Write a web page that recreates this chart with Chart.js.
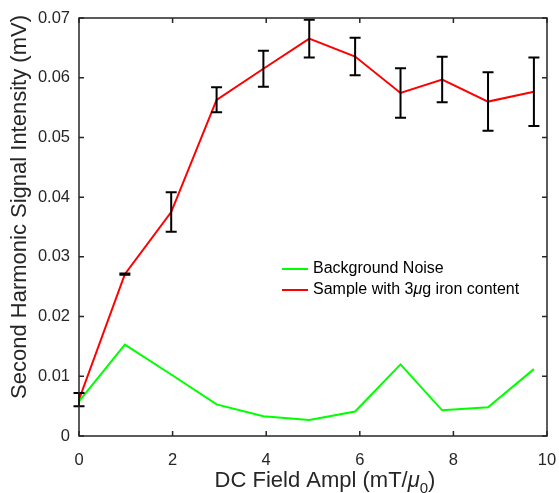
<!DOCTYPE html>
<html>
<head>
<meta charset="utf-8">
<script src="https://cdn.jsdelivr.net/npm/chart.js@4.4.1/dist/chart.umd.min.js"></script>
<style>
html,body{margin:0;padding:0;background:#fff;}
#wrap{width:559px;height:493px;position:relative;}
</style>
</head>
<body>
<div id="wrap"><canvas id="c" width="559" height="493"></canvas></div>
<script>
// ---- data ----
const fieldX   = [0, 0.98, 1.97, 2.94, 3.94, 4.92, 5.90, 6.87, 7.76, 8.74, 9.72];
const noiseY   = [0.0058, 0.0153, 0.0103, 0.0053, 0.0033, 0.0027, 0.0041, 0.0120, 0.0043, 0.0048, 0.0112];
const sampleY  = [0.0061, 0.0271, 0.0375, 0.0563, 0.0615, 0.06655, 0.06355, 0.05745, 0.0597, 0.0560, 0.05765];
const sampleErr= [0.0011, 0.0001, 0.0033, 0.0021, 0.0030, 0.00315, 0.00315, 0.00415, 0.0038, 0.0049, 0.00575];
const xTicks   = [0, 2, 4, 6, 8, 10];
const yTicks   = [0, 0.01, 0.02, 0.03, 0.04, 0.05, 0.06, 0.07];
const seriesLabels = ['Background Noise', 'Sample with 3\u03BCg iron content'];
const yTitle = 'Second Harmonic Signal Intensity (mV)';

const FONT = '"Liberation Sans", Arial, Helvetica, sans-serif';
const AX = '#262626';

const toPts = (xs, ys) => xs.map((x, i) => ({x: x, y: ys[i]}));

const frameAndExtras = {
  id: 'frameAndExtras',
  afterDatasetsDraw(chart) {
    const ctx = chart.ctx, xs = chart.scales.x, ys = chart.scales.y;
    ctx.save();
    ctx.strokeStyle = '#000';
    ctx.lineWidth = 2;
    fieldX.forEach((x, i) => {
      const px = xs.getPixelForValue(x);
      const top = ys.getPixelForValue(sampleY[i] + sampleErr[i]);
      const bot = ys.getPixelForValue(sampleY[i] - sampleErr[i]);
      ctx.beginPath();
      ctx.moveTo(px, top); ctx.lineTo(px, bot);
      ctx.moveTo(px - 5.5, top); ctx.lineTo(px + 5.5, top);
      ctx.moveTo(px - 5.5, bot); ctx.lineTo(px + 5.5, bot);
      ctx.stroke();
    });
    ctx.restore();
  },
  afterDraw(chart) {
    const ctx = chart.ctx, a = chart.chartArea, xs = chart.scales.x, ys = chart.scales.y;
    ctx.save();
    ctx.strokeStyle = AX;
    ctx.lineWidth = 1.5;
    ctx.strokeRect(a.left, a.top, a.right - a.left, a.bottom - a.top);
    ctx.beginPath();
    const tl = 5;
    xTicks.forEach(v => {
      const px = xs.getPixelForValue(v);
      ctx.moveTo(px, a.bottom); ctx.lineTo(px, a.bottom - tl);
      ctx.moveTo(px, a.top); ctx.lineTo(px, a.top + tl);
    });
    yTicks.forEach(v => {
      const py = ys.getPixelForValue(v);
      ctx.moveTo(a.left, py); ctx.lineTo(a.left + tl, py);
      ctx.moveTo(a.right, py); ctx.lineTo(a.right - tl, py);
    });
    ctx.stroke();

    // legend
    const ds = chart.data.datasets;
    const LF = 16;
    ctx.textBaseline = 'middle';
    ctx.textAlign = 'left';
    const legY = [269, 290];
    ds.forEach((d, i) => {
      ctx.strokeStyle = d.borderColor;
      ctx.lineWidth = 2;
      ctx.beginPath();
      ctx.moveTo(282, legY[i]); ctx.lineTo(308, legY[i]);
      ctx.stroke();
      ctx.fillStyle = '#000';
      const label = d.label;
      const mu = label.indexOf('\u03BC');
      ctx.font = LF + 'px ' + FONT;
      if (mu < 0) {
        ctx.fillText(label, 313, legY[i]);
      } else {
        let x = 313;
        const a1 = label.slice(0, mu), a2 = label.slice(mu + 1);
        ctx.fillText(a1, x, legY[i]); x += ctx.measureText(a1).width;
        ctx.font = 'italic ' + LF + 'px ' + FONT;
        ctx.fillText('\u03BC', x, legY[i]); x += ctx.measureText('\u03BC').width;
        ctx.font = LF + 'px ' + FONT;
        ctx.fillText(a2, x, legY[i]);
      }
    });

    // y title
    const TF = 22;
    ctx.fillStyle = AX;
    ctx.font = TF + 'px ' + FONT;
    ctx.textAlign = 'center';
    ctx.textBaseline = 'middle';
    ctx.save();
    ctx.translate(20, 207);
    ctx.rotate(-Math.PI / 2);
    ctx.fillText(yTitle, 0, 0);
    ctx.restore();

    // x title with italic mu and subscript 0
    const parts = [
      {t: 'DC Field Ampl (mT/', f: TF + 'px ' + FONT, dy: 0},
      {t: '\u03BC', f: 'italic ' + TF + 'px ' + FONT, dy: 0},
      {t: '0', f: '15px ' + FONT, dy: 6},
      {t: ')', f: TF + 'px ' + FONT, dy: 0}
    ];
    let w = 0;
    parts.forEach(p => { ctx.font = p.f; p.w = ctx.measureText(p.t).width; w += p.w; });
    let x = 325 - w / 2;
    ctx.textAlign = 'left';
    ctx.textBaseline = 'alphabetic';
    parts.forEach(p => { ctx.font = p.f; ctx.fillText(p.t, x, 487 + p.dy); x += p.w; });
    ctx.restore();
  }
};

new Chart(document.getElementById('c'), {
  type: 'line',
  data: {
    datasets: [
      {label: seriesLabels[0], data: toPts(fieldX, noiseY), borderColor: '#00ff00', backgroundColor: '#00ff00', borderWidth: 2, pointRadius: 0, tension: 0, fill: false},
      {label: seriesLabels[1], data: toPts(fieldX, sampleY), borderColor: '#ff0000', backgroundColor: '#ff0000', borderWidth: 2, pointRadius: 0, tension: 0, fill: false}
    ]
  },
  options: {
    responsive: false,
    animation: false,
    layout: {padding: {left: 0, right: 12, top: 18, bottom: 0}},
    plugins: {legend: {display: false}, tooltip: {enabled: false}},
    scales: {
      x: {
        type: 'linear', min: 0, max: 10,
        afterBuildTicks: s => { s.ticks = xTicks.map(v => ({value: v})); },
        afterFit: s => { s.height = 57; s.paddingLeft = 0; s.paddingRight = 0; },
        grid: {display: false}, border: {display: false},
        ticks: {color: AX, font: {family: FONT, size: 16.5}, padding: 7, maxRotation: 0,
                callback: v => String(v)}
      },
      y: {
        type: 'linear', min: 0, max: 0.07,
        afterBuildTicks: s => { s.ticks = yTicks.map(v => ({value: v})); },
        afterFit: s => { s.width = 79; s.paddingTop = 0; s.paddingBottom = 0; },
        grid: {display: false}, border: {display: false},
        ticks: {color: AX, font: {family: FONT, size: 16.5}, padding: 1,
                callback: v => (Math.round(v * 100) / 100).toString()}
      }
    }
  },
  plugins: [frameAndExtras]
});
</script>
</body>
</html>
